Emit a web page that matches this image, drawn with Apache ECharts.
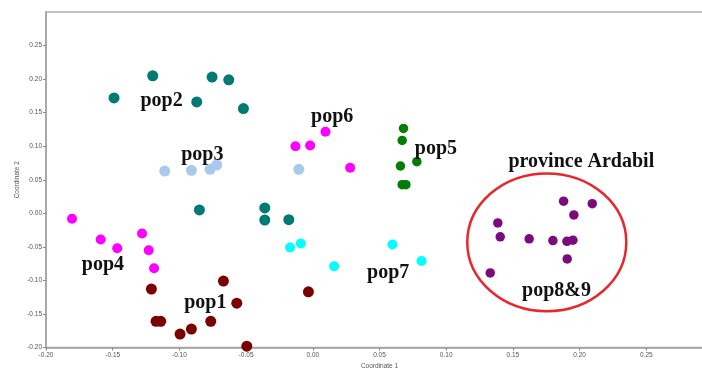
<!DOCTYPE html>
<html>
<head>
<meta charset="utf-8">
<script src="https://cdn.jsdelivr.net/npm/echarts@6/dist/echarts.min.js"></script>
<style>
  html, body { margin: 0; padding: 0; background: #fff; }
  #main { width: 702px; height: 369px; }
</style>
</head>
<body>
<div id="main"></div>
<script>
// PCoA points per population, [coordinate 1, coordinate 2]
var pop1 = [[-0.121, -0.113], [-0.067, -0.101], [-0.1175, -0.161], [-0.114, -0.161], [-0.0995, -0.180],
  [-0.091, -0.1725], [-0.0765, -0.161], [-0.057, -0.134], [-0.0495, -0.198], [-0.0033, -0.117]];
var pop2 = [[-0.120, 0.205], [-0.149, 0.172], [-0.0755, 0.203], [-0.063, 0.199], [-0.087, 0.166],
  [-0.052, 0.156], [-0.085, 0.005], [-0.036, 0.008], [-0.036, -0.010], [-0.018, -0.0095]];
var pop3 = [[-0.111, 0.063], [-0.091, 0.064], [-0.077, 0.0655], [-0.072, 0.072], [-0.0105, 0.0655]];
var pop4 = [[-0.1805, -0.008], [-0.159, -0.039], [-0.1466, -0.052], [-0.128, -0.030], [-0.123, -0.055], [-0.119, -0.082]];
var pop5 = [[0.068, 0.1265], [0.067, 0.1086], [0.078, 0.077], [0.0657, 0.0705], [0.067, 0.0427], [0.0698, 0.0427]];
var pop6 = [[-0.013, 0.100], [-0.002, 0.101], [0.0095, 0.1215], [0.028, 0.068]];
var pop7 = [[-0.017, -0.051], [-0.009, -0.045], [0.016, -0.079], [0.0597, -0.0466], [0.0815, -0.071]];
var pop89 = [[0.188, 0.018], [0.2095, 0.0144], [0.1957, -0.0025], [0.1387, -0.0144], [0.1405, -0.035],
  [0.1622, -0.038], [0.180, -0.0407], [0.1905, -0.0417], [0.195, -0.040], [0.1907, -0.068], [0.133, -0.0888]];

// group labels and where they sit (data coords)
var labelNames = ['pop1', 'pop2', 'pop3', 'pop4', 'pop5', 'pop6', 'pop7', 'province Ardabil', 'pop8&9'];
var labelPos = [[-0.0806, -0.134], [-0.1134, 0.168], [-0.0828, 0.0878], [-0.1573, -0.0766], [0.0923, 0.0957],
  [0.0145, 0.1433], [0.0565, -0.0893], [0.2013, 0.0766], [0.1827, -0.1153]];

// Ardabil ellipse: [cx, cy, rx, ry]
var ardabil = [[0.1754, -0.0432, 0.0596, 0.1027]];

var chart = echarts.init(document.getElementById('main'));

function dots(name, data, color, size) {
  return {
    name: name,
    type: 'scatter',
    data: data,
    symbolSize: size,
    itemStyle: { color: color, opacity: 1 },
    z: 3
  };
}

var axisStyle = {
  axisLine: { onZero: false, lineStyle: { color: '#a0a0a0', width: 1.5 } },
  axisTick: { show: true, length: 3, lineStyle: { color: '#888' } },
  axisLabel: {
    fontSize: 6.5, color: '#555', fontFamily: 'Liberation Sans', margin: 4,
    formatter: function (v) { return v.toFixed(2); }
  },
  splitLine: { show: false },
  nameMoveOverlap: false,
  nameTextStyle: { fontSize: 6.5, color: '#555', fontFamily: 'Liberation Sans' }
};

var option = {
  animation: false,
  backgroundColor: '#fff',
  grid: {
    left: 46, width: 667, top: 12, bottom: 21.5,
    outerBoundsMode: 'none',
    containLabel: false,
    show: true, borderColor: '#b0b0b0', borderWidth: 1.5
  },
  xAxis: Object.assign({
    type: 'value', min: -0.2, max: 0.3, interval: 0.05,
    name: 'Coordinate 1', nameLocation: 'middle', nameGap: 15
  }, axisStyle),
  yAxis: Object.assign({
    type: 'value', min: -0.2, max: 0.3, interval: 0.05,
    name: 'Coordinate 2', nameLocation: 'middle', nameGap: 25
  }, axisStyle, {
    axisLabel: Object.assign({}, axisStyle.axisLabel, { showMaxLabel: false })
  }),
  series: [
    dots('pop1', pop1, '#7b0000', 11),
    dots('pop2', pop2, '#007b74', 11),
    dots('pop3', pop3, '#a9c9ef', 11),
    dots('pop4', pop4, '#ff00ff', 10),
    dots('pop5', pop5, '#037d03', 9.5),
    dots('pop6', pop6, '#ff00ff', 10),
    dots('pop7', pop7, '#00ffff', 10),
    dots('pop8&9', pop89, '#7d0a7d', 9.5),
    {
      type: 'custom',
      data: ardabil,
      z: 2,
      renderItem: function (params, api) {
        var c = api.coord([api.value(0), api.value(1)]);
        var s = api.size([api.value(2), api.value(3)]);
        return {
          type: 'ellipse',
          shape: { cx: c[0], cy: c[1], rx: s[0], ry: s[1] },
          style: { fill: 'none', stroke: '#e8262c', lineWidth: 2.5 }
        };
      }
    },
    {
      type: 'scatter',
      symbolSize: 0,
      z: 4,
      data: labelPos.map(function (p, i) { return { value: p, name: labelNames[i] }; }),
      label: {
        show: true,
        position: 'inside',
        formatter: '{b}',
        fontFamily: 'Liberation Serif',
        fontWeight: 'bold',
        fontSize: 20,
        color: '#111',
        textBorderWidth: 0,
        opacity: 1
      }
    }
  ]
};

chart.setOption(option);
</script>
</body>
</html>
